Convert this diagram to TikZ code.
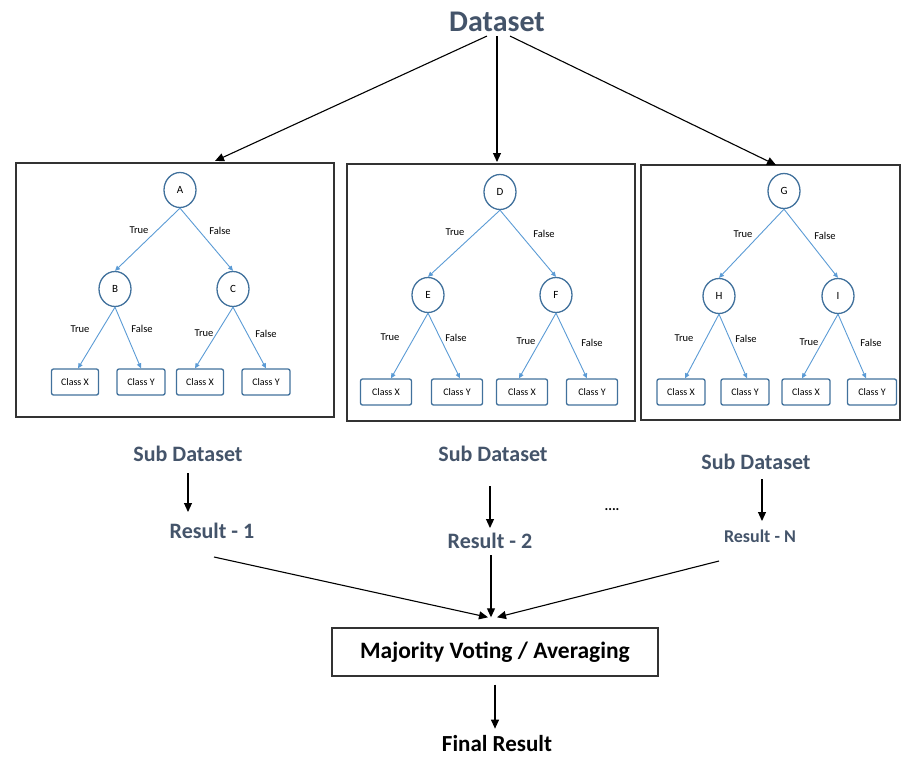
\documentclass[tikz,border=0pt]{standalone}
\usepackage{fontspec}
\setmainfont{Carlito}
\usetikzlibrary{arrows.meta,shapes.geometric}
\definecolor{slate}{HTML}{44546A}
\definecolor{nodeline}{HTML}{41719C}
\definecolor{edgeblue}{HTML}{5B9BD5}
\definecolor{frameline}{HTML}{333333}
\tikzset{
  bigarrow/.style={draw=black, line width=1.1pt, -{Triangle[length=9pt,width=8pt]}},
  treearrow/.style={draw=edgeblue, line width=0.9pt, -{Triangle[length=5pt,width=4.5pt]}},
  splitnode/.style={ellipse, draw=nodeline, line width=1.3pt, fill=white,
    minimum width=32pt, minimum height=35pt, inner sep=0pt, font=\fontsize{11}{13}\selectfont},
  leafbox/.style={draw=nodeline, line width=1.3pt, rounded corners=2pt, fill=white,
    minimum height=26pt, inner sep=0pt, font=\fontsize{10}{12}\selectfont},
  edgelabel/.style={fill=white, inner sep=1pt, font=\fontsize{10.5}{12}\selectfont},
  forestframe/.style={draw=frameline, line width=1.4pt},
  steplabel/.style={text=slate, font=\bfseries\fontsize{22}{26}\selectfont, inner sep=0pt},
}
\begin{document}
\begin{tikzpicture}[x=1pt, y=-1pt]
\useasboundingbox (0,0) rectangle (903,756);

% Top-level dataset
\node[text=slate, font=\bfseries\fontsize{30}{34}\selectfont, inner sep=0pt] (ds) at (497,22) {Dataset};

% Frames holding the three trees
\draw[forestframe] (16,163) rectangle (334,417);
\draw[forestframe] (347,164) rectangle (635,421);
\draw[forestframe] (641,165) rectangle (900,420);

\coordinate (t1) at (215,161);
\coordinate (t2) at (497,162);
\coordinate (t3) at (776,165);
\draw[bigarrow] ([xshift=-10pt,yshift=-4pt]ds.south) -- (t1);
\draw[bigarrow] ([yshift=-4pt]ds.south) -- (t2);
\draw[bigarrow] ([xshift=13pt,yshift=-4pt]ds.south) -- (t3);

% ---------- Tree 1 ----------
\node[splitnode] (A) at (180,190) {A};
\node[splitnode] (B) at (115,289) {B};
\node[splitnode] (C) at (233,289) {C};
\node[leafbox, minimum width=47pt] (a1) at (75,382) {Class X};
\node[leafbox, minimum width=48pt] (a2) at (141,382) {Class Y};
\node[leafbox, minimum width=47pt] (a3) at (200,382) {Class X};
\node[leafbox, minimum width=48pt] (a4) at (266,382) {Class Y};
\draw[treearrow] (A.south) -- (B.north);
\draw[treearrow] (A.south) -- (C.north);
\draw[treearrow] (B.south) -- ([xshift=3pt]a1.north);
\draw[treearrow] (B.south) -- (a2.north);
\draw[treearrow] (C.south) -- ([xshift=-5pt]a3.north);
\draw[treearrow] (C.south) -- (a4.north);
\node[edgelabel] (la1) at (139,230) {True};
\node[edgelabel] (la2) at (220,231) {False};
\node[edgelabel] (la3) at (80,329) {True};
\node[edgelabel] (la4) at (142,329) {False};
\node[edgelabel] (la5) at (204,333) {True};
\node[edgelabel] (la6) at (266,334) {False};

% ---------- Tree 2 ----------
\node[splitnode] (D) at (500,192) {D};
\node[splitnode] (E) at (428,295) {E};
\node[splitnode] (F) at (556,295) {F};
\node[leafbox, minimum width=51pt] (b1) at (386,392) {Class X};
\node[leafbox, minimum width=51pt] (b2) at (457,392) {Class Y};
\node[leafbox, minimum width=51pt] (b3) at (522,392) {Class X};
\node[leafbox, minimum width=51pt] (b4) at (592,392) {Class Y};
\draw[treearrow] (D.south) -- (E.north);
\draw[treearrow] (D.south) -- (F.north);
\draw[treearrow] (E.south) -- ([xshift=5pt]b1.north);
\draw[treearrow] (E.south) -- ([xshift=3pt]b2.north);
\draw[treearrow] (F.south) -- ([xshift=-3pt]b3.north);
\draw[treearrow] (F.south) -- ([xshift=-5pt]b4.north);
\node[edgelabel] (lb1) at (455,232) {True};
\node[edgelabel] (lb2) at (544,234) {False};
\node[edgelabel] (lb3) at (390,337) {True};
\node[edgelabel] (lb4) at (456,338) {False};
\node[edgelabel] (lb5) at (526,341) {True};
\node[edgelabel] (lb6) at (592,343) {False};

% ---------- Tree 3 ----------
\node[splitnode] (G) at (784,191) {G};
\node[splitnode] (H) at (719,296) {H};
\node[splitnode] (I) at (838,296) {I};
\node[leafbox, minimum width=48pt] (c1) at (681,392) {Class X};
\node[leafbox, minimum width=48pt] (c2) at (745,392) {Class Y};
\node[leafbox, minimum width=48pt] (c3) at (806,392) {Class X};
\node[leafbox, minimum width=49pt] (c4) at (872,392) {Class Y};
\draw[treearrow] (G.south) -- (H.north);
\draw[treearrow] (G.south) -- (I.north);
\draw[treearrow] (H.south) -- ([xshift=4pt]c1.north);
\draw[treearrow] (H.south) -- ([xshift=2pt]c2.north);
\draw[treearrow] (I.south) -- ([xshift=-4pt]c3.north);
\draw[treearrow] (I.south) -- ([xshift=-6pt]c4.north);
\node[edgelabel] (lc1) at (743,234) {True};
\node[edgelabel] (lc2) at (825,236) {False};
\node[edgelabel] (lc3) at (684,338) {True};
\node[edgelabel] (lc4) at (746,339) {False};
\node[edgelabel] (lc5) at (809,342) {True};
\node[edgelabel] (lc6) at (871,343) {False};

% ---------- Results ----------
\node[steplabel] (s1) at (188,454) {Sub Dataset};
\node[steplabel] (s2) at (493,454) {Sub Dataset};
\node[steplabel] (s3) at (756,462) {Sub Dataset};
\node[steplabel] (r1) at (212,531) {Result - 1};
\node[steplabel] (r2) at (490,541) {Result - 2};
\node[steplabel, font=\bfseries\fontsize{18}{22}\selectfont] (rn) at (760,536) {Result - N};
\node[font=\bfseries\fontsize{14}{16}\selectfont, inner sep=0pt] (dots) at (612,510) {....};

\coordinate (s1b) at (188,473);
\coordinate (r1t) at (188,512);
\coordinate (s2b) at (490,486);
\coordinate (r2t) at (490,528);
\coordinate (s3b) at (762,479);
\coordinate (rnt) at (762,521);
\draw[bigarrow] (s1b) -- (r1t);
\draw[bigarrow] (s2b) -- (r2t);
\draw[bigarrow] (s3b) -- (rnt);

\node[draw=frameline, line width=1.4pt, minimum width=326pt, minimum height=48pt,
      font=\bfseries\fontsize{23.5}{27}\selectfont, inner sep=0pt] (vote) at (495,652) {Majority Voting / Averaging};

\coordinate (r1s) at (214,557);
\coordinate (r2s) at (491,555);
\coordinate (rns) at (719,561);
\draw[bigarrow] (r1s) -- ([xshift=-7pt,yshift=10pt]vote.north);
\draw[bigarrow] (r2s) -- ([xshift=-4pt,yshift=10pt]vote.north);
\draw[bigarrow] (rns) -- ([xshift=2pt,yshift=10pt]vote.north);

\node[font=\bfseries\fontsize{23}{27}\selectfont, inner sep=0pt] (final) at (497,744) {Final Result};
\draw[bigarrow] ([yshift=-8pt]vote.south) -- ([yshift=7pt]vote.south |- final.north);
\end{tikzpicture}
\end{document}
